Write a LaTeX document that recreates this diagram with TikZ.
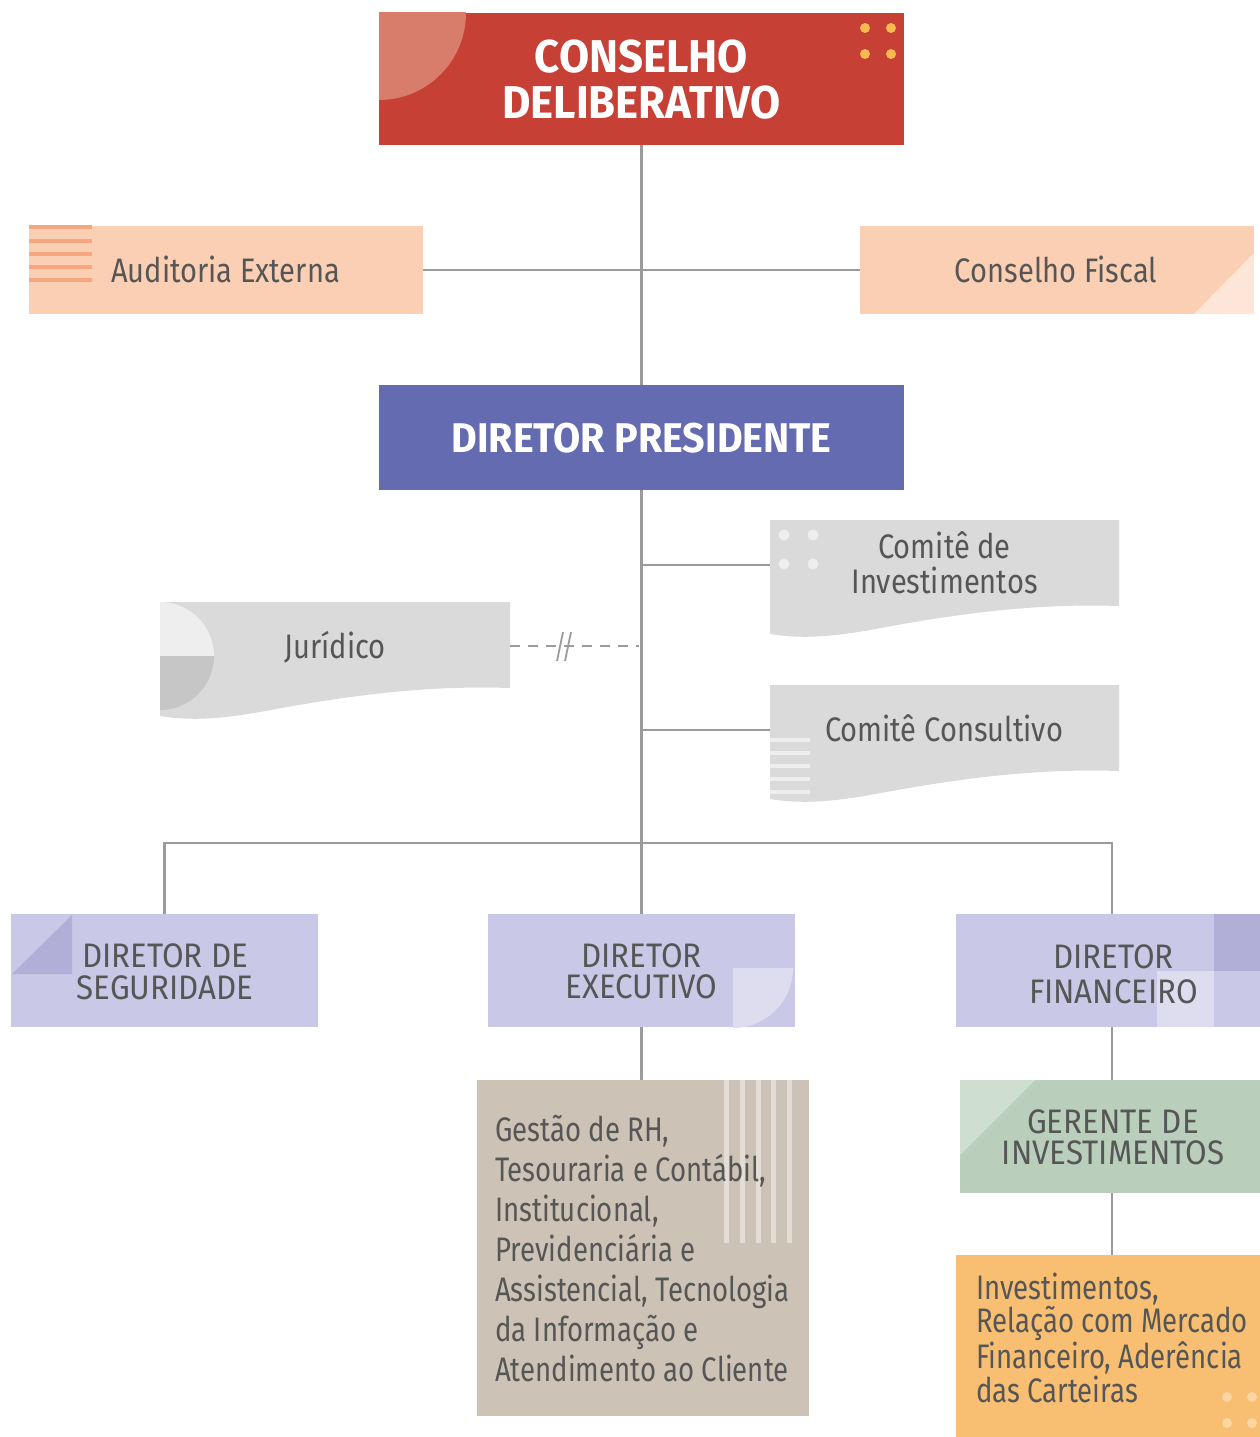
\documentclass[tikz,border=0pt]{standalone}
\usepackage{fontspec}
\setmainfont{Fira Sans}[FakeStretch=0.855]
\newfontfamily\narrowfont{Fira Sans}[FakeStretch=0.81]
\newfontfamily\capfont{Fira Sans}[FakeStretch=0.92]
\newfontfamily\hdfont{Fira Sans}[FakeStretch=0.95]
\definecolor{linec}{HTML}{9B9B9B}
\definecolor{txt}{HTML}{565656}
\definecolor{cdred}{HTML}{C64035}
\definecolor{cdcirc}{HTML}{D87D6C}
\definecolor{dotor}{HTML}{F8B94E}
\definecolor{peach}{HTML}{FBCFB3}
\definecolor{peachstripe}{HTML}{F7A77F}
\definecolor{peachlight}{HTML}{FDE6D8}
\definecolor{dpblue}{HTML}{656BB0}
\definecolor{lilac}{HTML}{C9C8E6}
\definecolor{lilacdark}{HTML}{B1AFD8}
\definecolor{lilaclight}{HTML}{DEDDF0}
\definecolor{wavegray}{HTML}{DADADA}
\definecolor{wavelight}{HTML}{EEEEEE}
\definecolor{juddark}{HTML}{C6C6C6}
\definecolor{beige}{HTML}{CCC3B6}
\definecolor{beigelight}{HTML}{E3DDD5}
\definecolor{sage}{HTML}{B9CFBB}
\definecolor{sagelight}{HTML}{CEDFD0}
\definecolor{orng}{HTML}{F8BF72}
\definecolor{orngdot}{HTML}{FBD6A1}
\begin{document}
\begin{tikzpicture}[x=1pt,y=-1pt,
  conn/.style={draw=linec,line width=2.2pt},
  boxshape/.style={rectangle,inner sep=0pt,outer sep=0pt},
  lbl/.style={inner sep=0pt,align=center,text=txt,anchor=base},
  hd/.style={inner sep=0pt,align=center,text=white,anchor=base}]
\useasboundingbox (0,0) rectangle (1260,1437);

% ---------- boxes ----------
\node[boxshape,fill=cdred,minimum width=525,minimum height=132] (cd) at (641.5,79) {};
\begin{scope}
  \clip (379,13) rectangle (904,145);
  \fill[cdcirc] (379,13) circle[radius=87];
\end{scope}
\foreach \p in {(865,28),(891,28),(865,54),(891,54)} \fill[dotor] \p circle[radius=5];

\node[boxshape,fill=peach,minimum width=394,minimum height=88] (aud) at (226,270) {};
\foreach \yy in {227,241,254,267,280} \fill[peachstripe] (29,\yy-2) rectangle (92,\yy+2);

\node[boxshape,fill=peach,minimum width=394,minimum height=88] (fis) at (1057,270) {};
\fill[peachlight] (1254,253) -- (1254,314) -- (1194,314) -- cycle;

\node[boxshape,fill=dpblue,minimum width=525,minimum height=105] (dp) at (641.5,437.5) {};

% wavy boxes
\fill[wavegray,shift={(770,520)}] (0,0) -- (349,0) -- (349,86) .. controls (260,83) and (180,95) .. (100,110) .. controls (60,117) and (30,119) .. (0,114) -- cycle;
\foreach \p in {(784,535),(813,535),(784,564),(813,564)} \fill[wavelight] \p circle[radius=5.5];
\coordinate (ciL) at (770,565);

\fill[wavegray,shift={(770,685)}] (0,0) -- (349,0) -- (349,86) .. controls (260,83) and (180,95) .. (100,110) .. controls (60,117) and (30,119) .. (0,114) -- cycle;
\begin{scope}
  \clip[shift={(770,685)}] (0,0) -- (349,0) -- (349,86) .. controls (260,83) and (180,95) .. (100,110) .. controls (60,117) and (30,119) .. (0,114) -- cycle;
  \foreach \yy in {740,753,766,779,792} \fill[wavelight] (770,\yy-2) rectangle (810,\yy+2);
\end{scope}
\coordinate (ccL) at (770,730);

\fill[wavegray,shift={(160,602)}] (0,0) -- (350,0) -- (350,86) .. controls (260,83) and (180,95) .. (100,110) .. controls (60,117) and (30,119) .. (0,114) -- cycle;
\fill[wavelight] (160,602) arc[start angle=-90,end angle=0,radius=54] -- (160,656) -- cycle;
\fill[juddark] (214,656) arc[start angle=0,end angle=90,radius=54] -- (160,656) -- cycle;
\coordinate (juR) at (510,646);

% directors
\node[boxshape,fill=lilac,minimum width=307,minimum height=113] (ds) at (164.5,970.5) {};
\fill[lilacdark] (12,974) -- (72,915) -- (72,974) -- cycle;

\node[boxshape,fill=lilac,minimum width=307,minimum height=113] (de) at (641.5,970.5) {};
\fill[lilaclight] (733,968) -- (793,968) arc[start angle=0,end angle=90,radius=60] -- cycle;

\node[boxshape,fill=lilac,minimum width=304,minimum height=113] (df) at (1108,970.5) {};
\fill[lilacdark] (1214,914) rectangle (1260,971);
\fill[lilaclight] (1157,971) rectangle (1214,1027);
\coordinate (fcol) at (1112,0);

\node[boxshape,fill=beige,minimum width=332,minimum height=336] (ges) at (643,1248) {};
\foreach \xx in {726,742,758,773,789} \fill[beigelight] (\xx-2.5,1080) rectangle (\xx+2.5,1243);

\node[boxshape,fill=sage,minimum width=300,minimum height=113] (gi) at (1110,1136.5) {};
\fill[sagelight] (960,1080) -- (1035,1080) -- (960,1155) -- cycle;

\node[boxshape,fill=orng,minimum width=304,minimum height=182] (inv) at (1108,1346) {};
\foreach \p in {(1227,1397),(1252,1397),(1227,1423),(1252,1423)} \fill[orngdot] \p circle[radius=5];

% ---------- connectors ----------
\draw[conn] (cd.south) -- (dp.north);
\draw[conn] (aud.east) -- (fis.west);
\draw[conn] (dp.south) -- (de.north);
\draw[conn] (dp.south |- ciL) -- (ciL);
\draw[conn] (dp.south |- ccL) -- (ccL);
\draw[conn] (ds.north) -- ++(0,-71) -| (df.north -| fcol);
\draw[conn] (de.south) -- (de.south |- ges.north);
\draw[conn] (df.south -| fcol) -- (gi.north -| fcol);
\draw[conn] (gi.south -| fcol) -- (inv.north -| fcol);
\draw[draw=linec,line width=1.8pt,dash pattern=on 10pt off 8pt] (juR) -- ([xshift=-3pt]dp.south |- juR);
\draw[draw=linec,line width=1.8pt] (557,661) -- (563,632) (565,661) -- (571,632);

% ---------- texts ----------
\node[hd,font=\hdfont\bfseries\fontsize{46}{46}\selectfont] (cdt) at (641.5,118) {CONSELHO\\DELIBERATIVO};
\node[hd,font=\hdfont\bfseries\fontsize{41.5}{42}\selectfont] (dpt) at (641.5,452) {DIRETOR PRESIDENTE};
\node[lbl,font=\fontsize{34}{34}\selectfont] (audt) at (225.5,282) {Auditoria Externa};
\node[lbl,font=\fontsize{34}{34}\selectfont] (fist) at (1056,282) {Conselho Fiscal};
\node[lbl,font=\fontsize{34}{35}\selectfont] (cit) at (944.5,593) {Comitê de\\Investimentos};
\node[lbl,font=\fontsize{34}{34}\selectfont] (cct) at (944,741) {Comitê Consultivo};
\node[lbl,font=\fontsize{34}{34}\selectfont] (jut) at (335,658) {Jurídico};
\node[lbl,font=\capfont\fontsize{34}{32}\selectfont] (dst) at (165,999) {DIRETOR DE\\SEGURIDADE};
\node[lbl,font=\capfont\fontsize{34}{31}\selectfont] (det) at (641.5,998) {DIRETOR\\EXECUTIVO};
\node[lbl,font=\capfont\fontsize{34}{35}\selectfont] (dft) at (1113.5,1003) {DIRETOR\\FINANCEIRO};
\node[lbl,font=\capfont\fontsize{34}{31}\selectfont] (git) at (1113,1164) {GERENTE DE\\INVESTIMENTOS};
\node[inner sep=0pt,align=left,text=txt,anchor=base west,font=\narrowfont\fontsize{34}{40}\selectfont] (gest) at (495,1381) {Gestão de RH,\\Tesouraria e Contábil,\\Institucional,\\Previdenciária e\\Assistencial, Tecnologia\\da Informação e\\Atendimento ao Cliente};
\node[inner sep=0pt,align=left,text=txt,anchor=base west,font=\fontsize{34}{33.3}\selectfont\narrowfont] (invt) at (976,1402) {Investimentos,\\Relação com Mercado\\Financeiro, Aderência\\das Carteiras};
\end{tikzpicture}
\end{document}
